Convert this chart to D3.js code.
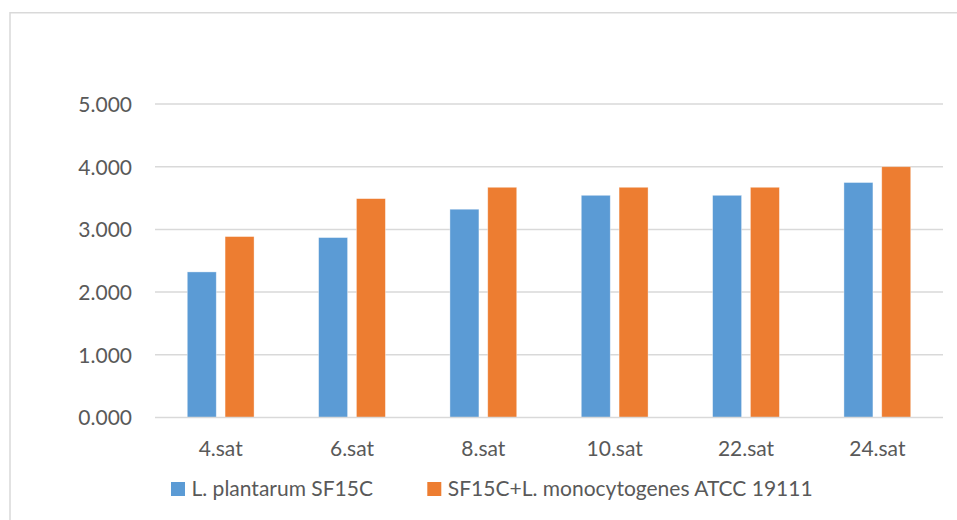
<!DOCTYPE html>
<html>
<head>
<meta charset="utf-8">
<script src="https://cdn.jsdelivr.net/npm/d3@7"></script>
<style>
  html, body { margin: 0; padding: 0; background: #fff; }
  svg { display: block; }
  text { font-family: Lato, "Open Sans", sans-serif; fill: #595959; }
</style>
</head>
<body>
<svg id="chart" width="957" height="520"></svg>
<script>
const categories = ["4.sat", "6.sat", "8.sat", "10.sat", "22.sat", "24.sat"];
const seriesNames = ["L. plantarum SF15C", "SF15C+L. monocytogenes ATCC 19111"];
const plantarum = [2.322, 2.870, 3.322, 3.544, 3.544, 3.748];
const mixed = [2.886, 3.491, 3.672, 3.672, 3.672, 4.000];
const yTicks = [0, 1, 2, 3, 4, 5];
const colors = ["#5B9BD5", "#ED7D31"];

(function () {
const svg = d3.select("#chart");
const W = 957, H = 520;
const pLeft = 155, pRight = 943, pTop = 104, pBottom = 417.5;
const fs = 21;

// chart border (top and left visible)
svg.append("line").attr("x1", 10).attr("x2", W).attr("y1", 12.7).attr("y2", 12.7)
  .attr("stroke", "#D9D9D9").attr("stroke-width", 1.5);
svg.append("line").attr("x1", 10).attr("x2", 10).attr("y1", 12).attr("y2", H)
  .attr("stroke", "#D9D9D9").attr("stroke-width", 1.5);

const x = d3.scaleBand().domain(categories).range([pLeft, pRight]).paddingInner(0).paddingOuter(0);
const y = d3.scaleLinear().domain([0, 5]).range([pBottom, pTop]);

// gridlines
svg.append("g").selectAll("line").data(yTicks.filter(d => d > 0)).join("line")
  .attr("x1", pLeft).attr("x2", pRight)
  .attr("y1", d => y(d)).attr("y2", d => y(d))
  .attr("stroke", "#D9D9D9").attr("stroke-width", 1.5);

// y labels
svg.append("g").selectAll("text").data(yTicks).join("text")
  .attr("x", 132).attr("y", d => y(d) + 7.8)
  .attr("text-anchor", "end").attr("font-size", fs)
  .text(d => d3.format(".3f")(d));

// bars
const barW = 29, gap = 8.8;
const sub = d3.scaleBand().domain([0, 1])
  .range([-(barW + gap / 2), barW + gap / 2])
  .paddingInner(gap / (barW + gap)).paddingOuter(0);
const data = [plantarum, mixed];
data.forEach((vals, si) => {
  svg.append("g").selectAll("rect").data(vals).join("rect")
    .attr("x", (d, i) => x(categories[i]) + x.bandwidth() / 2 + sub(si))
    .attr("width", sub.bandwidth())
    .attr("y", d => y(d))
    .attr("height", d => y(0) - y(d))
    .attr("fill", colors[si])
    .attr("stroke", "#fff").attr("stroke-opacity", 0.5).attr("stroke-width", 0.75);
});

// x axis line
svg.append("line").attr("x1", pLeft).attr("x2", pRight).attr("y1", pBottom).attr("y2", pBottom)
  .attr("stroke", "#D9D9D9").attr("stroke-width", 1.5);

// x labels
svg.append("g").selectAll("text").data(categories).join("text")
  .attr("x", d => x(d) + x.bandwidth() / 2).attr("y", 456)
  .attr("text-anchor", "middle").attr("font-size", fs)
  .text(d => d);

// legend
const legendX = [171, 427.3];
seriesNames.forEach((name, i) => {
  svg.append("rect").attr("x", legendX[i]).attr("y", 482).attr("width", 14).attr("height", 14)
    .attr("fill", colors[i]);
  svg.append("text").attr("x", legendX[i] + 20.5).attr("y", 496)
    .attr("font-size", fs).text(name);
});
})();
</script>
</body>
</html>
